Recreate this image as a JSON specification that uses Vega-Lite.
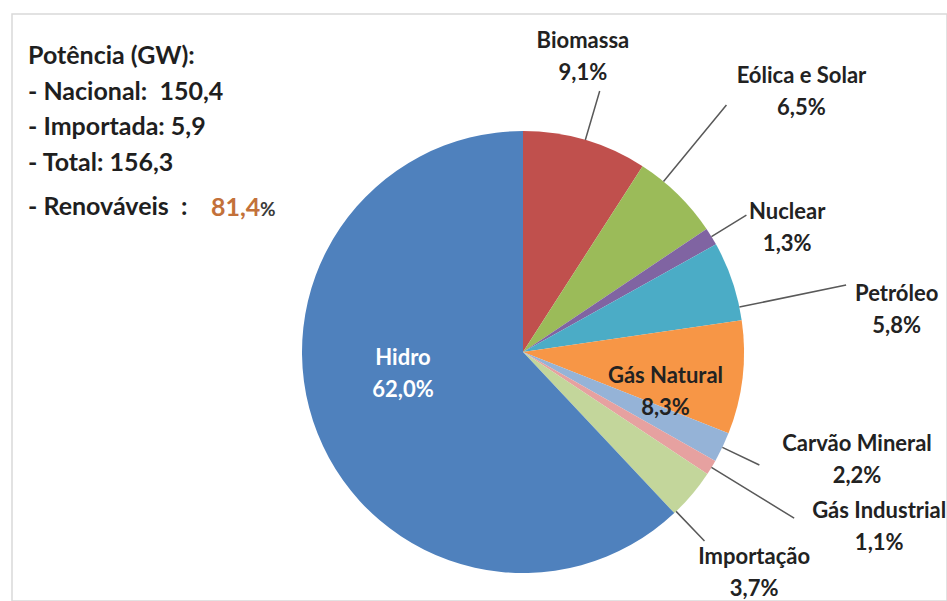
{
  "$schema": "https://vega.github.io/schema/vega-lite/v6.json",
  "width": 935,
  "height": 587,
  "autosize": {"type": "none"},
  "padding": {"left": 12, "top": 14, "right": 0, "bottom": 0},
  "background": "white",
  "config": {
    "view": {"stroke": "#d9d9d9", "strokeWidth": 1.5},
    "text": {"font": "Lato", "fontWeight": "bold"}
  },
  "datasets": {
    "fontes": [
      {"fonte": "Biomassa", "pct": 9.1, "ordem": 1, "rotulo": "Biomassa\n9,1%"},
      {"fonte": "Eólica e Solar", "pct": 6.5, "ordem": 2, "rotulo": "Eólica e Solar\n6,5%"},
      {"fonte": "Nuclear", "pct": 1.3, "ordem": 3, "rotulo": "Nuclear\n1,3%"},
      {"fonte": "Petróleo", "pct": 5.8, "ordem": 4, "rotulo": "Petróleo\n5,8%"},
      {"fonte": "Gás Natural", "pct": 8.3, "ordem": 5, "rotulo": "Gás Natural\n8,3%"},
      {"fonte": "Carvão Mineral", "pct": 2.2, "ordem": 6, "rotulo": "Carvão Mineral\n2,2%"},
      {"fonte": "Gás Industrial", "pct": 1.1, "ordem": 7, "rotulo": "Gás Industrial\n1,1%"},
      {"fonte": "Importação", "pct": 3.7, "ordem": 8, "rotulo": "Importação\n3,7%"},
      {"fonte": "Hidro", "pct": 62.0, "ordem": 9, "rotulo": "Hidro\n62,0%"}
    ],
    "potencia": [
      {"ordem": 1, "parte": "linha", "texto": "Potência (GW):"},
      {"ordem": 2, "parte": "linha", "texto": "- Nacional:\u00a0 150,4"},
      {"ordem": 3, "parte": "linha", "texto": "- Importada: 5,9"},
      {"ordem": 4, "parte": "linha", "texto": "- Total: 156,3"},
      {"ordem": 5, "parte": "final", "texto": "- Renováveis\u00a0\u00a0:"},
      {"ordem": 5, "parte": "valor", "texto": "81,4"},
      {"ordem": 5, "parte": "unidade", "texto": "%"}
    ]
  },
  "layer": [
    {
      "data": {"name": "fontes"},
      "encoding": {
        "x": {"value": 511},
        "y": {"value": 338},
        "theta": {"field": "pct", "type": "quantitative", "stack": true},
        "order": {"field": "ordem", "type": "quantitative"},
        "detail": {"field": "fonte", "type": "nominal"}
      },
      "layer": [
        {
          "mark": {"type": "arc", "radius": 221},
          "encoding": {
            "color": {
              "field": "fonte",
              "type": "nominal",
              "legend": null,
              "scale": {
                "domain": ["Biomassa", "Eólica e Solar", "Nuclear", "Petróleo", "Gás Natural", "Carvão Mineral", "Gás Industrial", "Importação", "Hidro"],
                "range": ["#c0504d", "#9bbb59", "#8064a2", "#4bacc6", "#f79646", "#95b3d7", "#e6a1a0", "#c3d69b", "#4f81bd"]
              }
            }
          }
        },
        {
          "mark": {"type": "arc", "radius": 272, "radius2": 221, "padAngle": 1, "stroke": "#595959", "strokeWidth": 1.5, "fillOpacity": 0},
          "encoding": {"strokeOpacity": {"condition": {"test": "datum.fonte === 'Biomassa'", "value": 1}, "value": 0}}
        },
        {
          "mark": {"type": "arc", "radius": 320, "radius2": 221, "padAngle": 1, "thetaOffset": -0.087, "theta2Offset": -0.087, "stroke": "#595959", "strokeWidth": 1.5, "fillOpacity": 0},
          "encoding": {"strokeOpacity": {"condition": {"test": "datum.fonte === 'Eólica e Solar'", "value": 1}, "value": 0}}
        },
        {
          "mark": {"type": "arc", "radius": 262, "radius2": 221, "padAngle": 1, "stroke": "#595959", "strokeWidth": 1.5, "fillOpacity": 0},
          "encoding": {"strokeOpacity": {"condition": {"test": "datum.fonte === 'Nuclear' || datum.fonte === 'Carvão Mineral'", "value": 1}, "value": 0}}
        },
        {
          "mark": {"type": "arc", "radius": 330, "radius2": 221, "padAngle": 1, "thetaOffset": 0.122, "theta2Offset": 0.122, "stroke": "#595959", "strokeWidth": 1.5, "fillOpacity": 0},
          "encoding": {"strokeOpacity": {"condition": {"test": "datum.fonte === 'Petróleo'", "value": 1}, "value": 0}}
        },
        {
          "mark": {"type": "arc", "radius": 318, "radius2": 221, "padAngle": 1, "stroke": "#595959", "strokeWidth": 1.5, "fillOpacity": 0},
          "encoding": {"strokeOpacity": {"condition": {"test": "datum.fonte === 'Gás Industrial'", "value": 1}, "value": 0}}
        },
        {
          "mark": {"type": "arc", "radius": 262, "radius2": 221, "padAngle": 1, "thetaOffset": 0.105, "theta2Offset": 0.105, "stroke": "#595959", "strokeWidth": 1.5, "fillOpacity": 0},
          "encoding": {"strokeOpacity": {"condition": {"test": "datum.fonte === 'Importação'", "value": 1}, "value": 0}}
        },
        {
          "mark": {"type": "text", "radius": 301, "thetaOffset": -0.0855, "dy": -16, "fontSize": 22, "lineHeight": 32, "lineBreak": "\n", "align": "center", "baseline": "middle", "color": "#222222"},
          "encoding": {"text": {"condition": {"test": "datum.fonte === 'Biomassa'", "field": "rotulo"}, "value": ""}}
        },
        {
          "mark": {"type": "text", "radius": 381, "thetaOffset": 0.0436, "dy": -16, "fontSize": 22, "lineHeight": 32, "lineBreak": "\n", "align": "center", "baseline": "middle", "color": "#222222"},
          "encoding": {"text": {"condition": {"test": "datum.fonte === 'Eólica e Solar'", "field": "rotulo"}, "value": ""}}
        },
        {
          "mark": {"type": "text", "radius": 292, "thetaOffset": 0.11, "dy": -16, "fontSize": 22, "lineHeight": 32, "lineBreak": "\n", "align": "center", "baseline": "middle", "color": "#222222"},
          "encoding": {"text": {"condition": {"test": "datum.fonte === 'Nuclear'", "field": "rotulo"}, "value": ""}}
        },
        {
          "mark": {"type": "text", "radius": 376, "thetaOffset": 0.216, "dy": -16, "fontSize": 22, "lineHeight": 32, "lineBreak": "\n", "align": "center", "baseline": "middle", "color": "#222222"},
          "encoding": {"text": {"condition": {"test": "datum.fonte === 'Petróleo'", "field": "rotulo"}, "value": ""}}
        },
        {
          "mark": {"type": "text", "radius": 148, "thetaOffset": 0.157, "dy": -16, "fontSize": 22, "lineHeight": 32, "lineBreak": "\n", "align": "center", "baseline": "middle", "color": "#222222"},
          "encoding": {"text": {"condition": {"test": "datum.fonte === 'Gás Natural'", "field": "rotulo"}, "value": ""}}
        },
        {
          "mark": {"type": "text", "radius": 351, "thetaOffset": -0.134, "dy": -16, "fontSize": 22, "lineHeight": 32, "lineBreak": "\n", "align": "center", "baseline": "middle", "color": "#222222"},
          "encoding": {"text": {"condition": {"test": "datum.fonte === 'Carvão Mineral'", "field": "rotulo"}, "value": ""}}
        },
        {
          "mark": {"type": "text", "radius": 397, "thetaOffset": -0.0925, "dy": -16, "fontSize": 22, "lineHeight": 32, "lineBreak": "\n", "align": "center", "baseline": "middle", "color": "#222222"},
          "encoding": {"text": {"condition": {"test": "datum.fonte === 'Gás Industrial'", "field": "rotulo"}, "value": ""}}
        },
        {
          "mark": {"type": "text", "radius": 320, "thetaOffset": 0.0628, "dy": -16, "fontSize": 22, "lineHeight": 32, "lineBreak": "\n", "align": "center", "baseline": "middle", "color": "#222222"},
          "encoding": {"text": {"condition": {"test": "datum.fonte === 'Importação'", "field": "rotulo"}, "value": ""}}
        },
        {
          "mark": {"type": "text", "radius": 122, "thetaOffset": 0.195, "dy": -16, "fontSize": 22, "lineHeight": 32, "lineBreak": "\n", "align": "center", "baseline": "middle", "color": "#ffffff"},
          "encoding": {"text": {"condition": {"test": "datum.fonte === 'Hidro'", "field": "rotulo"}, "value": ""}}
        }
      ]
    },
    {
      "data": {"name": "potencia"},
      "encoding": {
        "y": {"field": "ordem", "type": "quantitative", "axis": null, "scale": {"domain": [1, 4], "range": [50, 157], "nice": false, "zero": false}},
        "text": {"field": "texto"}
      },
      "layer": [
        {
          "transform": [{"filter": "datum.parte === 'linha'"}],
          "mark": {"type": "text", "align": "left", "baseline": "alphabetic", "fontSize": 25, "color": "#1f1f1f"},
          "encoding": {"x": {"value": 16}}
        },
        {
          "transform": [{"filter": "datum.parte === 'final'"}],
          "mark": {"type": "text", "align": "left", "baseline": "alphabetic", "fontSize": 25, "dy": 8, "color": "#1f1f1f"},
          "encoding": {"x": {"value": 16}}
        },
        {
          "transform": [{"filter": "datum.parte === 'valor'"}],
          "mark": {"type": "text", "align": "left", "baseline": "alphabetic", "fontSize": 25, "dy": 9, "color": "#c3713a"},
          "encoding": {"x": {"value": 199}}
        },
        {
          "transform": [{"filter": "datum.parte === 'unidade'"}],
          "mark": {"type": "text", "align": "left", "baseline": "alphabetic", "fontSize": 19, "dy": 9, "color": "#3a3a3a"},
          "encoding": {"x": {"value": 248}}
        }
      ]
    }
  ]
}
